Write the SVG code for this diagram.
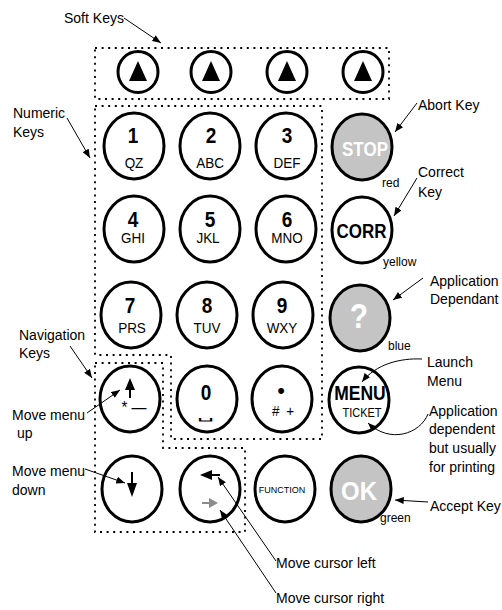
<svg xmlns="http://www.w3.org/2000/svg" width="502" height="610" viewBox="0 0 502 610">
<style>
text{font-family:"Liberation Sans",Arial,sans-serif;fill:#000}
.lbl{font-size:14px}
.num{font-size:19px;font-weight:bold;text-anchor:middle}
.let{font-size:13.5px;text-anchor:middle}
.key{fill:#fff;stroke:#000;stroke-width:3}
.grey{fill:#c4c4c4;stroke:#000;stroke-width:3}
.soft{fill:#fff;stroke:#000;stroke-width:3}
.dot{fill:none;stroke:#000;stroke-width:1.8;stroke-dasharray:2 4.6}
.wht{fill:#fff;font-weight:bold;text-anchor:middle}
.col{font-size:12px}
.con{fill:none;stroke:#000;stroke-width:1}
</style>
<defs>
<marker id="ah" viewBox="0 0 10 8" refX="10" refY="4" markerWidth="9" markerHeight="7" markerUnits="userSpaceOnUse" orient="auto"><path d="M0,0 L10,4 L0,8 z" fill="#000"/></marker>
</defs>

<g id="groups">
<rect id="softkeys-box" class="dot" x="95" y="48" width="294" height="51"/>
<path id="numeric-box" class="dot" d="M95,106 H322 V439 H171 V355 H95 Z"/>
<path id="navigation-box" class="dot" d="M95,363 H163 V448 H245 V532 H95 Z"/>
</g>

<g id="soft1"><ellipse class="soft" cx="138" cy="72" rx="20" ry="20.5"/><path d="M138,61 L129,81 L147,81 Z"/></g>
<g id="soft2"><ellipse class="soft" cx="211" cy="72" rx="20" ry="20.5"/><path d="M211,61 L202,81 L220,81 Z"/></g>
<g id="soft3"><ellipse class="soft" cx="287" cy="72" rx="20" ry="20.5"/><path d="M287,61 L278,81 L296,81 Z"/></g>
<g id="soft4"><ellipse class="soft" cx="363" cy="72" rx="20" ry="20.5"/><path d="M363,61 L354,81 L372,81 Z"/></g>

<g id="key1"><ellipse class="key" cx="134" cy="146" rx="30" ry="33"/><text class="num" transform="translate(133,143) scale(1,1.15)">1</text><text class="let" transform="translate(134,168) scale(1,1.15)">QZ</text></g>
<g id="key2"><ellipse class="key" cx="210" cy="146" rx="30" ry="33"/><text class="num" transform="translate(211,143) scale(1,1.15)">2</text><text class="let" transform="translate(210,168) scale(1,1.15)">ABC</text></g>
<g id="key3"><ellipse class="key" cx="286" cy="146" rx="30" ry="33"/><text class="num" transform="translate(287,143) scale(1,1.15)">3</text><text class="let" transform="translate(287,168) scale(1,1.15)">DEF</text></g>
<g id="keyStop"><ellipse class="grey" cx="362" cy="147" rx="30" ry="33"/><text class="wht" font-size="17" transform="translate(365,156) scale(1,1.15)">STOP</text><text class="col" x="382" y="187">red</text></g>

<g id="key4"><ellipse class="key" cx="134" cy="229" rx="30" ry="33"/><text class="num" transform="translate(133,227) scale(1,1.15)">4</text><text class="let" transform="translate(133,243) scale(1,1.15)">GHI</text></g>
<g id="key5"><ellipse class="key" cx="210" cy="229" rx="30" ry="33"/><text class="num" transform="translate(210,227) scale(1,1.15)">5</text><text class="let" transform="translate(208,243) scale(1,1.15)">JKL</text></g>
<g id="key6"><ellipse class="key" cx="286" cy="229" rx="30" ry="33"/><text class="num" transform="translate(287,227) scale(1,1.15)">6</text><text class="let" transform="translate(287,243) scale(1,1.15)">MNO</text></g>
<g id="keyCorr"><ellipse class="key" cx="362" cy="230" rx="30" ry="33"/><text font-size="17" font-weight="bold" text-anchor="middle" transform="translate(361.5,238) scale(1,1.15)">CORR</text><text class="col" x="383" y="266">yellow</text></g>

<g id="key7"><ellipse class="key" cx="131" cy="315" rx="30" ry="33"/><text class="num" transform="translate(130,313) scale(1,1.15)">7</text><text class="let" transform="translate(132,333) scale(1,1.15)">PRS</text></g>
<g id="key8"><ellipse class="key" cx="207" cy="315" rx="30" ry="33"/><text class="num" transform="translate(207,313) scale(1,1.15)">8</text><text class="let" transform="translate(207,333) scale(1,1.15)">TUV</text></g>
<g id="key9"><ellipse class="key" cx="283" cy="315" rx="30" ry="33"/><text class="num" transform="translate(282,313) scale(1,1.15)">9</text><text class="let" transform="translate(282,333) scale(1,1.15)">WXY</text></g>
<g id="keyHelp"><ellipse class="grey" cx="360" cy="318" rx="30" ry="33"/><text class="wht" font-size="30" transform="translate(359,328) scale(1,1.15)">?</text><text class="col" x="388" y="350">blue</text></g>

<g id="keyUp"><ellipse class="key" cx="130" cy="399" rx="30" ry="33"/><path d="M130,378 L125,390 L135,390 Z"/><line x1="130" y1="389" x2="130" y2="398" stroke="#000" stroke-width="2"/><text font-size="15" text-anchor="middle" transform="translate(134,413) scale(1,1.15)">* —</text></g>
<g id="key0"><ellipse class="key" cx="207" cy="399" rx="30" ry="33"/><text class="num" transform="translate(206,400) scale(1,1.15)">0</text><text font-size="12" text-anchor="middle" font-family="DejaVu Sans, sans-serif" transform="translate(206,419) scale(2.2,0.9)">␣</text></g>
<g id="keyDot"><ellipse class="key" cx="282" cy="399" rx="30" ry="33"/><text x="281" y="398" font-size="22" text-anchor="middle">•</text><text class="let" word-spacing="3" transform="translate(283,416) scale(1,1.15)"># +</text></g>
<g id="keyMenu"><ellipse class="key" cx="359" cy="400" rx="30" ry="33"/><text font-size="17.5" font-weight="bold" text-anchor="middle" transform="translate(360,400) scale(1,1.15)">MENU</text><text font-size="11" text-anchor="middle" transform="translate(362,417) scale(1,1.15)">TICKET</text></g>

<g id="keyDown"><ellipse class="key" cx="132" cy="489" rx="30" ry="33"/><line x1="132" y1="472" x2="132" y2="484" stroke="#000" stroke-width="2"/><path d="M127,483 L137,483 L132,497 Z"/></g>
<g id="keyCursor"><ellipse class="key" cx="210" cy="489" rx="30" ry="33"/><path d="M200,475 L212,470 L212,480 Z"/><line x1="211" y1="475" x2="220" y2="475" stroke="#000" stroke-width="2"/><line x1="202" y1="503" x2="210" y2="503" stroke="#8c8c8c" stroke-width="2"/><path d="M209,498 L218,503 L209,508 Z" fill="#8c8c8c"/></g>
<g id="keyFunction"><ellipse class="key" cx="285" cy="489" rx="30" ry="33"/><text x="282" y="493" font-size="9" text-anchor="middle">FUNCTION</text></g>
<g id="keyOk"><ellipse class="grey" cx="361" cy="489" rx="30" ry="33"/><text class="wht" font-size="24" transform="translate(359,500) scale(1,1.1)">OK</text><text class="col" x="380" y="522">green</text></g>

<g id="labels">
<text class="lbl" x="64" y="23">Soft Keys</text>
<text class="lbl" x="13" y="118">Numeric</text><text class="lbl" x="13" y="137">Keys</text>
<text class="lbl" x="19" y="340">Navigation</text><text class="lbl" x="19" y="358">Keys</text>
<text class="lbl" x="12" y="420">Move menu</text><text class="lbl" x="17" y="438">up</text>
<text class="lbl" x="12" y="476">Move menu</text><text class="lbl" x="12" y="495">down</text>
<text class="lbl" x="418" y="110">Abort Key</text>
<text class="lbl" x="418" y="177">Correct</text><text class="lbl" x="418" y="197">Key</text>
<text class="lbl" x="430" y="286">Application</text><text class="lbl" x="430" y="304">Dependant</text>
<text class="lbl" x="427" y="367">Launch</text><text class="lbl" x="427" y="386">Menu</text>
<text class="lbl" x="429" y="416">Application</text><text class="lbl" x="429" y="434">dependent</text><text class="lbl" x="429" y="453">but usually</text><text class="lbl" x="429" y="472">for printing</text>
<text class="lbl" x="430" y="511">Accept Key</text>
<text class="lbl" x="276" y="568">Move cursor left</text>
<text class="lbl" x="276" y="603">Move cursor right</text>
</g>

<g id="connectors">
<line class="con" x1="124" y1="18" x2="161" y2="43" marker-end="url(#ah)"/>
<line class="con" x1="67" y1="118" x2="90" y2="158" marker-end="url(#ah)"/>
<line class="con" x1="70" y1="346" x2="92" y2="378" marker-end="url(#ah)"/>
<line class="con" x1="87" y1="413" x2="120" y2="390" marker-end="url(#ah)"/>
<line class="con" x1="85" y1="469" x2="125" y2="483" marker-end="url(#ah)"/>
<line class="con" x1="417" y1="103" x2="395" y2="132" marker-end="url(#ah)"/>
<line class="con" x1="417" y1="178" x2="394" y2="216" marker-end="url(#ah)"/>
<line class="con" x1="423" y1="278" x2="393" y2="300" marker-end="url(#ah)"/>
<path class="con" d="M422,359 C400,358 376,364 362,382" marker-end="url(#ah)"/>
<path class="con" d="M428,414 C420,434 390,444 368,423" marker-end="url(#ah)"/>
<line class="con" x1="428" y1="502" x2="395" y2="500" marker-end="url(#ah)"/>
<line class="con" x1="276" y1="561" x2="218" y2="477" marker-end="url(#ah)"/>
<line class="con" x1="276" y1="593" x2="220" y2="510" marker-end="url(#ah)"/>
</g>
</svg>
